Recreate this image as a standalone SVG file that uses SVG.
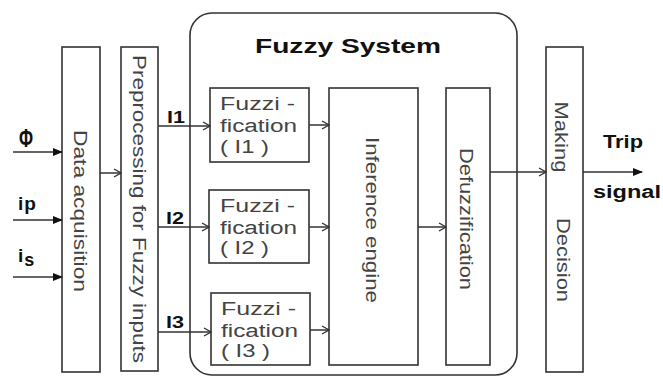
<svg xmlns="http://www.w3.org/2000/svg" width="663" height="379" viewBox="0 0 663 379">
<style>
.box{fill:#fff;stroke:#333;stroke-width:1.6}
.ln{fill:none;stroke:#333;stroke-width:1.5}
.t{font-family:"Liberation Sans",Arial,sans-serif;font-size:18px;fill:#444}
.r{font-family:"Liberation Sans",Arial,sans-serif;font-size:19px;fill:#444}
.b{font-family:"Liberation Sans",Arial,sans-serif;font-weight:bold;fill:#111}
</style>
<defs>
<marker id="fa" markerWidth="10" markerHeight="8" refX="9" refY="4" orient="auto" markerUnits="userSpaceOnUse"><path d="M0,0 L10,4 L0,8 Z" fill="#111"/></marker>
<marker id="oa" markerWidth="9" markerHeight="10" refX="8" refY="5" orient="auto" markerUnits="userSpaceOnUse"><path d="M1,1 L8,5 L1,9" fill="none" stroke="#333" stroke-width="1.3"/></marker>
</defs>
<rect width="663" height="379" fill="#fff"/>
<g id="fuzzy-system">
<rect class="box" x="190" y="13" width="327" height="362" rx="22" ry="22"/>
<text class="b" x="255" y="53" font-size="20" textLength="186" lengthAdjust="spacingAndGlyphs">Fuzzy System</text>
</g>
<g id="data-acquisition">
<rect class="box" x="62" y="47" width="38" height="325"/>
<text class="r" transform="translate(81,211) rotate(90)" text-anchor="middle" dy="0.35em" textLength="162" lengthAdjust="spacingAndGlyphs">Data acquisition</text>
</g>
<g id="preprocessing">
<rect class="box" x="121" y="47" width="37" height="324"/>
<text class="r" transform="translate(140,209) rotate(90)" text-anchor="middle" dy="0.35em" textLength="308" lengthAdjust="spacingAndGlyphs">Preprocessing for Fuzzy inputs</text>
</g>
<g id="fuzz1">
<rect class="box" x="210" y="88" width="99" height="74"/>
<text class="t"><tspan x="220" y="110" textLength="75" lengthAdjust="spacingAndGlyphs">Fuzzi -</tspan><tspan x="220" y="132" textLength="77" lengthAdjust="spacingAndGlyphs">fication</tspan><tspan x="220" y="153" textLength="49" lengthAdjust="spacingAndGlyphs">( I1 )</tspan></text>
</g>
<g id="fuzz2">
<rect class="box" x="209" y="190" width="100" height="73"/>
<text class="t"><tspan x="220" y="212" textLength="75" lengthAdjust="spacingAndGlyphs">Fuzzi -</tspan><tspan x="220" y="234" textLength="77" lengthAdjust="spacingAndGlyphs">fication</tspan><tspan x="220" y="254" textLength="49" lengthAdjust="spacingAndGlyphs">( I2 )</tspan></text>
</g>
<g id="fuzz3">
<rect class="box" x="211" y="293" width="99" height="72"/>
<text class="t"><tspan x="221" y="315" textLength="75" lengthAdjust="spacingAndGlyphs">Fuzzi -</tspan><tspan x="221" y="337" textLength="77" lengthAdjust="spacingAndGlyphs">fication</tspan><tspan x="221" y="357" textLength="49" lengthAdjust="spacingAndGlyphs">( I3 )</tspan></text>
</g>
<g id="inference">
<rect class="box" x="329" y="88" width="89" height="277"/>
<text class="r" transform="translate(373,220) rotate(90)" text-anchor="middle" dy="0.35em" textLength="166" lengthAdjust="spacingAndGlyphs">Inference engine</text>
</g>
<g id="defuzz">
<rect class="box" x="446" y="88" width="44" height="277"/>
<text class="r" transform="translate(467,219) rotate(90)" text-anchor="middle" dy="0.35em" textLength="142" lengthAdjust="spacingAndGlyphs">Defuzzification</text>
</g>
<g id="decision">
<rect class="box" x="546" y="47" width="37" height="325"/>
<text class="r" transform="translate(562,137) rotate(90)" text-anchor="middle" dy="0.35em" textLength="71" lengthAdjust="spacingAndGlyphs">Making</text>
<text class="r" transform="translate(564,260) rotate(90)" text-anchor="middle" dy="0.35em" textLength="84" lengthAdjust="spacingAndGlyphs">Decision</text>
</g>
<g id="connectors">
<line class="ln" x1="13" y1="152" x2="62" y2="152" marker-end="url(#fa)"/>
<line class="ln" x1="13" y1="220" x2="62" y2="220" marker-end="url(#fa)"/>
<line class="ln" x1="13" y1="277" x2="62" y2="277" marker-end="url(#fa)"/>
<line class="ln" x1="100" y1="173" x2="121" y2="173" marker-end="url(#oa)"/>
<line class="ln" x1="158" y1="126" x2="210" y2="126" marker-end="url(#oa)"/>
<line class="ln" x1="158" y1="227" x2="209" y2="227" marker-end="url(#oa)"/>
<line class="ln" x1="158" y1="332" x2="211" y2="332" marker-end="url(#oa)"/>
<line class="ln" x1="309" y1="125" x2="329" y2="125" marker-end="url(#oa)"/>
<line class="ln" x1="309" y1="227" x2="329" y2="227" marker-end="url(#oa)"/>
<line class="ln" x1="310" y1="330" x2="329" y2="330" marker-end="url(#oa)"/>
<line class="ln" x1="418" y1="227" x2="446" y2="227" marker-end="url(#oa)"/>
<line class="ln" x1="490" y1="172" x2="546" y2="172" marker-end="url(#oa)"/>
<line class="ln" x1="583" y1="172" x2="642" y2="172" marker-end="url(#fa)"/>
</g>
<g id="labels">
<text class="b" x="19" y="147" font-size="26" textLength="14" lengthAdjust="spacingAndGlyphs">Φ</text>
<text class="b" x="18" y="210" font-size="19">i<tspan font-size="19" dx="1">p</tspan></text>
<text class="b" x="18" y="262" font-size="19">i<tspan font-size="18" dx="1" dy="4">s</tspan></text>
<text class="b" x="167" y="123" font-size="16" textLength="18" lengthAdjust="spacingAndGlyphs">I1</text>
<text class="b" x="166" y="224" font-size="16" textLength="18" lengthAdjust="spacingAndGlyphs">I2</text>
<text class="b" x="166" y="328" font-size="16" textLength="18" lengthAdjust="spacingAndGlyphs">I3</text>
<text class="b" x="603" y="148" font-size="18" textLength="40" lengthAdjust="spacingAndGlyphs">Trip</text>
<text class="b" x="593" y="198" font-size="18" textLength="68" lengthAdjust="spacingAndGlyphs">signal</text>
</g>
</svg>
